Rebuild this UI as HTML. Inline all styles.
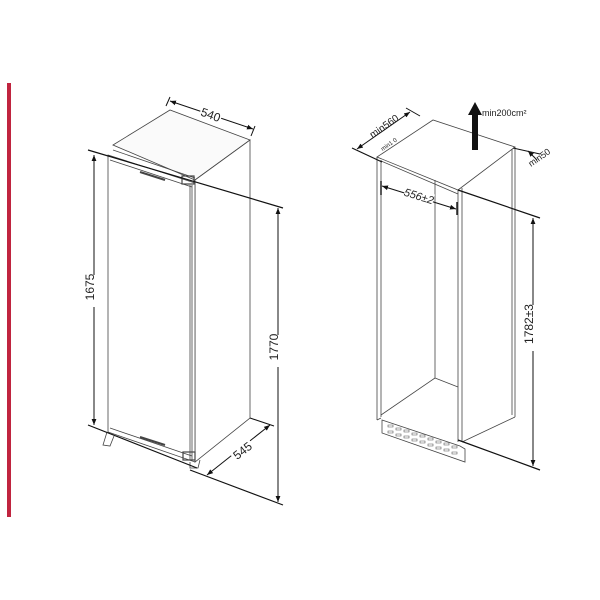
<!DOCTYPE html>
<html><head><meta charset="utf-8"><style>
html,body{margin:0;padding:0;background:#fff;width:600px;height:600px;overflow:hidden}
svg{display:block}
text{font-family:"Liberation Sans",sans-serif;fill:#222}
</style></head><body>
<svg width="600" height="600" viewBox="0 0 600 600" xmlns="http://www.w3.org/2000/svg">
<defs>
<marker id="a" viewBox="0 0 10 10" refX="10" refY="5" markerWidth="6" markerHeight="6" orient="auto-start-reverse"><path d="M0,1 L10,5 L0,9 z" fill="#111"/></marker>
</defs>
<rect x="7" y="83" width="4" height="434" fill="#c0243f"/>

<!-- LEFT FRIDGE -->
<g stroke="#444" stroke-width="0.8" fill="none">
<polygon points="113,145 170,110 250,140 195,180" fill="#fafafa"/>
<polygon points="195,180 250,140 250,418 195,462" fill="#fff"/>
<polygon points="108,155 195,183 195,462 108,432" fill="#fff"/>
<line x1="110" y1="160" x2="192" y2="187"/>
<line x1="110" y1="428" x2="192" y2="456"/>
<line x1="190" y1="185" x2="190" y2="460"/>
<line x1="192" y1="185" x2="192" y2="460"/>
<line x1="113" y1="150" x2="195" y2="178"/>
<line x1="140" y1="172" x2="165" y2="180" stroke-width="2"/>
<line x1="140" y1="437" x2="165" y2="445" stroke-width="2"/>
<rect x="182" y="176" width="12" height="8" stroke-width="1.2"/>
<rect x="183" y="452" width="12" height="8" stroke-width="1.2"/>
<path d="M107,432 L103,445 L110,446 L114,436"/>
<path d="M190,462 L190,468 L198,468 L200,460"/>
</g>
<g stroke="#111" stroke-width="1" fill="none">
<line x1="88" y1="150" x2="283" y2="208" stroke-width="1.2"/>
<line x1="88" y1="425" x2="197" y2="468" stroke-width="1.2"/>
<line x1="190" y1="470" x2="283" y2="505" stroke-width="1.2"/>
<line x1="170" y1="97" x2="166" y2="106"/>
<line x1="255" y1="126" x2="251" y2="136"/>
<line x1="170" y1="101" x2="253" y2="129" marker-start="url(#a)" marker-end="url(#a)"/>
<line x1="94" y1="155" x2="94" y2="425" marker-start="url(#a)" marker-end="url(#a)"/>
<line x1="278" y1="208" x2="278" y2="502" marker-start="url(#a)" marker-end="url(#a)"/>
<line x1="250" y1="418" x2="274" y2="426"/>
<line x1="207" y1="475" x2="270" y2="425" marker-start="url(#a)" marker-end="url(#a)"/>
</g>
<rect x="200" y="108" width="22" height="12" fill="#fff" transform="rotate(20 211 114)"/>
<text x="211" y="119" font-size="12" text-anchor="middle" transform="rotate(20 211 114)">540</text>
<rect x="86" y="275" width="16" height="32" fill="#fff"/>
<text x="98" y="291" font-size="12" text-anchor="middle" transform="rotate(-90 94 291)">1675</text>
<rect x="271" y="335" width="16" height="32" fill="#fff"/>
<text x="282" y="351" font-size="12" text-anchor="middle" transform="rotate(-90 278 351)">1770</text>
<rect x="230" y="443" width="24" height="14" fill="#fff" transform="rotate(-38 242 450)"/>
<text x="242" y="455" font-size="12" text-anchor="middle" transform="rotate(-38 242 450)">545</text>

<!-- RIGHT CABINET -->
<g stroke="#444" stroke-width="0.8" fill="none">
<polygon points="377,157 433,120 515,147 458,190"/>
<line x1="377" y1="157" x2="377" y2="420"/>
<line x1="381" y1="160" x2="381" y2="417"/>
<line x1="377" y1="420" x2="381" y2="418"/>
<line x1="381" y1="161" x2="458" y2="194"/>
<line x1="458" y1="190" x2="458" y2="442"/>
<line x1="462" y1="188" x2="462" y2="442"/>
<line x1="515" y1="147" x2="515" y2="417"/>
<line x1="512" y1="149" x2="512" y2="415"/>
<line x1="435" y1="180" x2="435" y2="378"/>
<line x1="381" y1="415" x2="435" y2="378"/>
<line x1="435" y1="378" x2="458" y2="387"/>
<line x1="515" y1="417" x2="462" y2="442"/>
<polygon points="382,420 460,446 465,449 465,462 382,433"/>
</g>
<g stroke="#111" stroke-width="1" fill="none">
<line x1="352" y1="148" x2="382" y2="162" stroke-width="1.2"/>
<line x1="357" y1="149" x2="410" y2="112" marker-start="url(#a)" marker-end="url(#a)"/>
<line x1="406" y1="108" x2="420" y2="116"/>
<line x1="513" y1="148" x2="540" y2="154"/>
<line x1="528" y1="151" x2="537" y2="160" marker-start="url(#a)"/>
<line x1="458" y1="190" x2="540" y2="218" stroke-width="1.2"/>
<line x1="458" y1="440" x2="540" y2="470" stroke-width="1.2"/>
<line x1="533" y1="218" x2="533" y2="466" marker-start="url(#a)" marker-end="url(#a)"/>
<line x1="382" y1="186" x2="456" y2="209" marker-start="url(#a)" marker-end="url(#a)"/>
<line x1="381" y1="181" x2="381" y2="195" stroke-width="1.4"/>
<line x1="457" y1="202" x2="457" y2="215" stroke-width="1.4"/>
</g>
<polygon points="472,150 478,150 478,115 482,115 475,102 468,115 472,115" fill="#111"/>
<text x="482" y="116" font-size="9">min200cm²</text>
<text x="386" y="129" font-size="10" text-anchor="middle" transform="rotate(-35 386 129)">min560</text>
<text x="390" y="146" font-size="6" text-anchor="middle" transform="rotate(-35 390 146)">min1 0</text>
<text x="541" y="160" font-size="9" text-anchor="middle" transform="rotate(-35 541 160)">min50</text>
<rect x="404" y="190" width="30" height="12" fill="#fff" transform="rotate(17 419 196)"/>
<text x="419" y="200" font-size="11" text-anchor="middle" font-style="italic" transform="rotate(17 419 196)">556±2</text>
<rect x="526" y="305" width="16" height="46" fill="#fff"/>
<text x="537" y="328" font-size="12" text-anchor="middle" transform="rotate(-90 533 328)">1782±3</text>
<g fill="none" stroke="#555" stroke-width="0.6">
<path d="M388,425h5v2h-5z M396,428h5v2h-5z M404,430h5v2h-5z M412,433h5v2h-5z M420,435h5v2h-5z M428,438h5v2h-5z M436,441h5v2h-5z M444,443h5v2h-5z M452,446h5v2h-5z
M388,431h5v2h-5z M396,434h5v2h-5z M404,436h5v2h-5z M412,439h5v2h-5z M420,441h5v2h-5z M428,444h5v2h-5z M436,447h5v2h-5z M444,449h5v2h-5z M452,452h5v2h-5z"/>
</g>
</svg>
</body></html>
